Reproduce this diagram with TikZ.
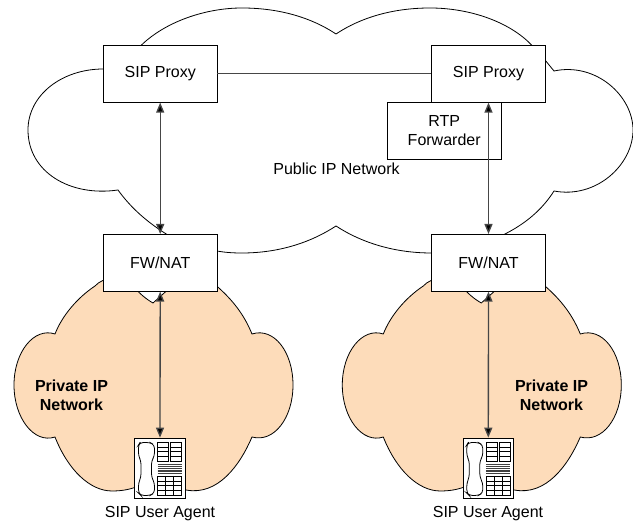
\documentclass[tikz,border=0pt]{standalone}
\usepackage{fontspec}
\setmainfont{Liberation Sans}
\usetikzlibrary{arrows.meta}
\definecolor{peach}{RGB}{253,220,186}
\definecolor{linegray}{RGB}{70,70,70}
\tikzset{
  netbox/.style={draw=black,line width=0.6pt,fill=white,minimum width=85.3pt,minimum height=42.6pt,inner sep=0pt,align=center,font=\fontsize{12}{14.5}\selectfont},
  label/.style={inner sep=0pt,align=center,font=\fontsize{12}{14.5}\selectfont},
  boldlabel/.style={inner sep=0pt,align=center,font=\fontsize{12}{14.5}\selectfont\bfseries},
  link/.style={draw=linegray,line width=1pt},
  twoway/.style={draw=linegray,line width=1pt,{Triangle[length=7.5pt,width=6pt,fill=black]}-{Triangle[length=7.5pt,width=6pt,fill=black]},shorten >=0pt,shorten <=0pt},
  cloudline/.style={draw=black,line width=0.6pt},
  phonebox/.style={draw=black,line width=0.7pt,fill=white,minimum width=38pt,minimum height=45.6pt,inner sep=0pt},
  phoneline/.style={draw=black,line width=0.45pt},
}
\newcommand{\privatecloud}{%
  \path[cloudline,fill=peach]
    (153,303) .. controls (146,299) and (140,294) .. (133,286)
    .. controls (122,274) and (103,277) .. (95,286)
    .. controls (77,298) and (62,316) .. (55,334)
    .. controls (34,327) and (14,352) .. (14,385)
    .. controls (14,418) and (34,444) .. (55,437)
    .. controls (68,470) and (90,491) .. (112,491)
    .. controls (120,491) and (128,490) .. (136,487)
    -- (186,490)
    .. controls (218,496) and (240,465) .. (252,437)
    .. controls (274,443) and (293,418) .. (293,385)
    .. controls (293,352) and (274,327) .. (252,334)
    .. controls (243,312) and (230,297) .. (212,282)
    .. controls (200,272) and (180,272) .. (172,286)
    -- cycle;
}
\newcommand{\phonedetail}{%
  % handset
  \draw[phoneline,line width=0.6pt,rounded corners=2.5pt]
    (140,442.5) -- (150,442.5) -- (154.5,445) -- (154.5,456) -- (151.5,461) -- (151.5,477)
    -- (154.5,483) -- (154.5,493) -- (150,495.5) -- (141,495.5) -- (138.5,493) -- (138.5,483)
    -- (141,477) -- (141,461) -- (138.5,456) -- (138.5,445) -- cycle;
  % upper key blocks
  \draw[phoneline] (157.5,442.5) rectangle (168.5,461);
  \draw[phoneline] (170.5,442.5) rectangle (181.5,461);
  \foreach \yy in {447,451.5,456.5}{
    \draw[phoneline] (157.5,\yy) -- (168.5,\yy);
    \draw[phoneline] (170.5,\yy) -- (181.5,\yy);
  }
  % display lines
  \foreach \yy in {464.5,466.3,468.1,469.9,471.7,473.5}{
    \draw[phoneline,draw=black!75] (157.5,\yy) -- (181.5,\yy);
  }
  % keypad
  \draw[phoneline] (157.5,476) rectangle (181.5,495.5);
  \foreach \yy in {481,485.5,490.5}{\draw[phoneline] (157.5,\yy) -- (181.5,\yy);}
  \foreach \xx in {165.5,173.5}{\draw[phoneline] (\xx,476) -- (\xx,495.5);}
}
\begin{document}
\begin{tikzpicture}[x=0.75pt,y=-0.75pt]
\useasboundingbox (0,0) rectangle (633,523);
\fill[white] (0,0) rectangle (633,523);

% public cloud
\draw[cloudline]
  (141,45.5) .. controls (165,22) and (205,8) .. (242,8)
  .. controls (280,8) and (312,18) .. (336,34)
  .. controls (360,18) and (392,8) .. (430,8)
  .. controls (470,8) and (510,22) .. (532,45.5)
  (545,60) -- (554,71)
  .. controls (596,62) and (633,96) .. (633,130)
  .. controls (633,165) and (596,199) .. (554,191)
  .. controls (542,210) and (525,224) .. (504,234.5)
  (431.5,253) .. controls (395,253) and (362,243) .. (336,226)
  .. controls (310,243) and (278,253) .. (242,253)
  .. controls (233,253) and (225,252.5) .. (217,251)
  (167,234.5) .. controls (147,222) and (131,208) .. (118,190)
  .. controls (70,197) and (28,172) .. (28,130)
  .. controls (28,95) and (62,69) .. (103.3,69);

% private clouds
\privatecloud
\begin{scope}[shift={(328.3,0)}]
\privatecloud
\end{scope}

% boxes
\node[netbox] (proxyL) at (160.2,73.8) {SIP Proxy};
\node[netbox] (proxyR) at (488.5,73.8) {SIP Proxy};
\node[netbox] (rtp) at (444.2,130.7) {RTP\\Forwarder};
\node[netbox] (natL) at (160.2,262.8) {FW/NAT};
\node[netbox] (natR) at (488.5,262.8) {FW/NAT};

% phones
\node[phonebox] (phoneL) at (160,468.5) {};
\node[phonebox] (phoneR) at (488.3,468.5) {};
\phonedetail
\begin{scope}[shift={(328.3,0)}]
\phonedetail
\end{scope}

% connectors
\draw[link] (proxyL) -- (proxyR);
\draw[twoway] (proxyL.south) -- (natL.north);
\draw[twoway] (proxyR.south) -- (natR.north);
\draw[twoway] (natL.south) -- (phoneL.north);
\draw[twoway] (natR.south) -- (phoneR.north);

% labels
\node[label] (pub) at (336.5,169) {Public IP Network};
\node[boldlabel] (privL) at (71.5,395) {Private IP\\Network};
\node[boldlabel] (privR) at (551.5,395) {Private IP\\Network};
\node[label] (uaL) at (160,513.5) {SIP User Agent};
\node[label] (uaR) at (488,513.5) {SIP User Agent};
\end{tikzpicture}
\end{document}
